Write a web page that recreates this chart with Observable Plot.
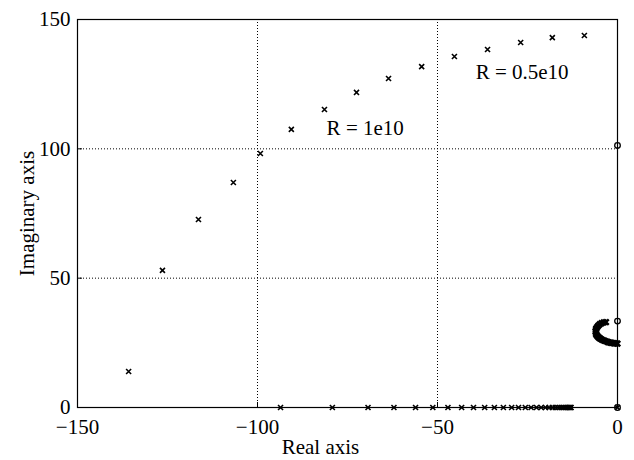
<!DOCTYPE html>
<html>
<head>
<meta charset="utf-8">
<script src="https://cdn.jsdelivr.net/npm/d3@7"></script>
<script src="https://cdn.jsdelivr.net/npm/@observablehq/plot@0.6"></script>
<style>
  html, body { margin: 0; padding: 0; background: #fff; }
  #chart svg { display: block; }
</style>
</head>
<body>
<div id="chart"></div>
<script>
// Root-locus branch (x markers) in the upper half-plane
const branchRe = [-135.8, -126.4, -116.4, -106.7, -99.2, -90.6, -81.4, -72.5, -63.6, -54.4, -45.3, -36.1, -26.9, -18.1, -9.2];
const branchIm = [13.9, 53.0, 72.7, 87.0, 98.2, 107.5, 115.2, 121.8, 127.2, 131.8, 135.7, 138.4, 141.1, 143.0, 143.8];

// Poles on the real axis (x markers)
const axisRe = [-93.6, -79.2, -69.3, -62.1, -56.1, -51.3, -47.1, -43.3, -40.0, -36.9, -34.2, -31.7, -29.4, -27.5, -25.6,
  -24.0, -22.5, -21.2, -20.0, -19.0, -18.1, -17.3, -16.6, -16.0, -15.4, -14.9, -14.4, -14.0, -13.6, -13.3, -13.0, -12.9, 0];

// Dense cluster of x markers near the imaginary axis
const clusterRe = [-3.2, -3.8, -4.4, -4.9, -5.3, -5.6, -5.9, -6.0, -6.1, -6.0, -5.9, -5.7, -5.4, -5.1, -4.8, -4.4, -4.0, -3.6, -3.2, -2.8, -2.4, -2.0, -1.6, -1.2, -0.8, -0.4, 0];
const clusterIm = [33.0, 32.9, 32.6, 32.2, 31.7, 31.2, 30.6, 30.0, 29.4, 28.8, 28.3, 27.8, 27.3, 26.9, 26.6, 26.3, 26.0, 25.8, 25.6, 25.4, 25.2, 25.1, 25.0, 24.9, 24.8, 24.8, 24.7];

// Zeros (o markers)
const zeroRe = [0, 0, 0];
const zeroIm = [101.3, 33.4, 0];

// Annotations
const labelText = ["R = 1e10", "R = 0.5e10"];
const labelRe = [-80.8, -39.4];
const labelIm = [107.8, 129.5];

const xTicks = [-150, -100, -50, 0];
const yTicks = [0, 50, 100, 150];
const xGrid = [-100, -50];
const yGrid = [50, 100];
const xTitle = "Real axis";
const yTitle = "Imaginary axis";

const branch = branchRe.map((x, i) => ({x, y: branchIm[i]}));
const axisPts = axisRe.map(x => ({x, y: 0}));
const cluster = clusterRe.map((x, i) => ({x, y: clusterIm[i]}));
const zeros = zeroRe.map((x, i) => ({x, y: zeroIm[i]}));
const labels = labelText.map((t, i) => ({t, x: labelRe[i], y: labelIm[i]}));

const font = "'Liberation Serif', 'Times New Roman', serif";

const chart = Plot.plot({
  width: 634,
  height: 460,
  marginLeft: 77,
  marginRight: 17,
  marginTop: 19,
  marginBottom: 53,
  style: {fontFamily: font, fontSize: "21px", color: "#000", background: "#fff", overflow: "visible"},
  x: {domain: [-150, 0]},
  y: {domain: [0, 150]},
  marks: [
    Plot.gridX(xGrid, {stroke: "#000", strokeOpacity: 1, strokeWidth: 1, strokeDasharray: "1,2"}),
    Plot.gridY(yGrid, {stroke: "#000", strokeOpacity: 1, strokeWidth: 1, strokeDasharray: "1,2"}),
    Plot.axisX(xTicks, {tickSize: -5, fontSize: 21, tickPadding: 17, label: null}),
    Plot.axisY(yTicks, {tickSize: -5, fontSize: 21, tickPadding: 12, label: yTitle, labelAnchor: "center", labelArrow: "none", labelOffset: 58}),
    Plot.text([xTitle], {frameAnchor: "bottom", lineAnchor: "middle", dy: 40, dx: -27, fontSize: 21, fill: "#000"}),
    Plot.frame({stroke: "#000", strokeWidth: 1.2}),
    Plot.dot(axisPts, {x: "x", y: "y", symbol: "times", r: 2.4, stroke: "#000", strokeWidth: 1.6}),
    Plot.dot(branch, {x: "x", y: "y", symbol: "times", r: 2.4, stroke: "#000", strokeWidth: 1.6}),
    Plot.dot(cluster, {x: "x", y: "y", symbol: "times", r: 2.6, stroke: "#000", strokeWidth: 2.4}),
    Plot.dot(zeros, {x: "x", y: "y", symbol: "circle", r: 2.8, stroke: "#000", strokeWidth: 1.3, fill: "none"}),
    Plot.text(labels, {x: "x", y: "y", text: "t", textAnchor: "start", fontSize: 21, fill: "#000"})
  ]
});
document.getElementById("chart").appendChild(chart);
</script>
</body>
</html>
